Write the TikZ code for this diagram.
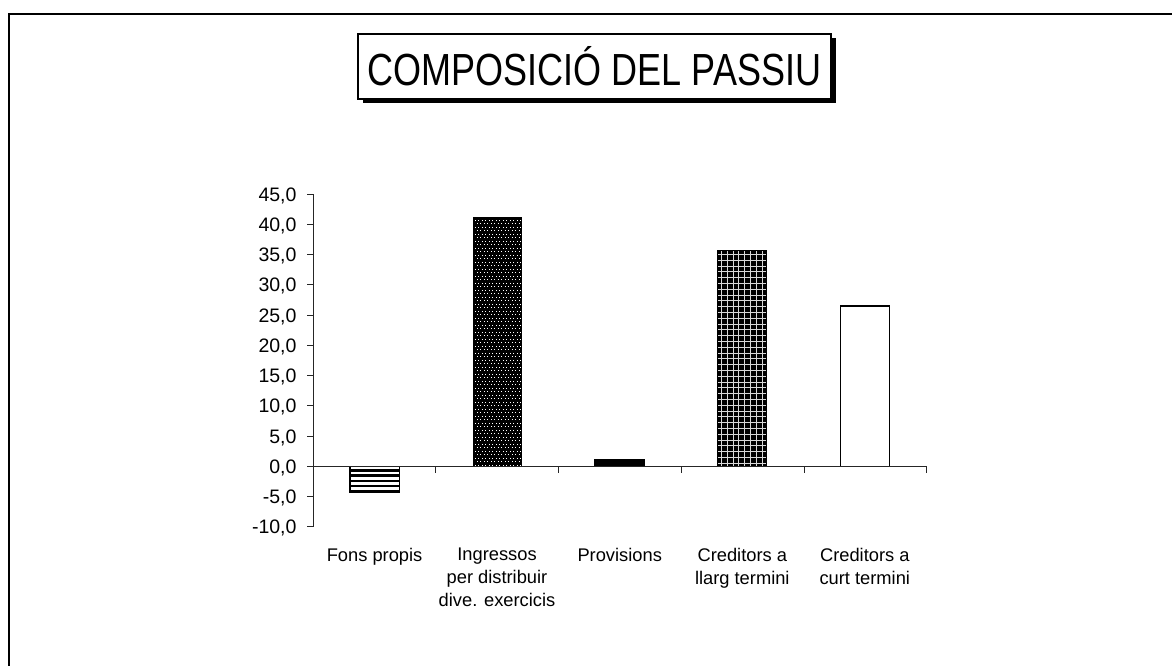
\documentclass[tikz,border=0pt]{standalone}
\usepackage{graphicx}
\usepackage{fontspec}
\setmainfont{Liberation Sans}
\begin{document}
\begin{tikzpicture}[x=1pt,y=-1pt,
  axisline/.style={draw=black!85,line width=1pt},
  barframe/.style={draw=black,line width=1.4pt},
  ticklabel/.style={anchor=base east,inner sep=0pt,font=\fontsize{19.5}{22}\selectfont},
  catlabel/.style={anchor=north,inner sep=0pt,align=center,font=\fontsize{18.3}{23}\selectfont}]
\useasboundingbox (0,0) rectangle (1172,666);
\fill[white] (0,0) rectangle (1172,666);
% outer frame
\draw[line width=1.5pt] (9,666) -- (9,14) -- (1172,14);
% title with shadow
\fill[black] (362.5,38.5) rectangle (835.5,103.5);
\node[draw,fill=white,line width=1.3pt,minimum width=473pt,minimum height=65pt,inner sep=0pt,
  font=\fontsize{36}{40}\selectfont] (title) at (594.5,66.5) {\raisebox{-1pt}{\scalebox{1}[1.25]{COMPOSICIÓ DEL PASSIU}}};
% bar 1: Fons propis (horizontal stripes)
\begin{scope}
\clip (350,466.5) rectangle (399.3,492.3);
\fill[white] (350,466.5) rectangle (399.3,492.3);
\foreach \yy in {469.3,474.4,...,493} \fill[black] (350,\yy) rectangle (399.3,\yy+2.4);
\end{scope}
\draw[barframe] (350,466.5) rectangle (399.3,492.3);
% bar 2: Ingressos (black with white dots)
\begin{scope}
\clip (473.3,217.7) rectangle (521.7,466.5);
\fill[black] (473.3,217.7) rectangle (521.7,466.5);
\foreach \r in {0,...,71} {
  \pgfmathsetmacro{\off}{mod(\r,2)*1.75}
  \foreach \c in {0,...,14} {
    \fill[white] ({474.8+\c*3.5+\off},{219.5+\r*3.5}) rectangle ++(1.1,1.1);
  }
}
\end{scope}
\draw[barframe] (473.3,217.7) rectangle (521.7,466.5);
% bar 3: Provisions (solid)
\fill[black] (595,460) rectangle (644.3,466.5);
\draw[barframe] (595,460) rectangle (644.3,466.5);
% bar 4: Creditors a llarg termini (black with white grid)
\begin{scope}
\clip (717.7,250.7) rectangle (766.7,466.5);
\fill[black] (717.7,250.7) rectangle (766.7,466.5);
\foreach \xx in {721.5,727.3,...,767} \draw[white!85!black,line width=0.9pt] (\xx,250.7) -- (\xx,466.5);
\foreach \yy in {254.5,260.3,...,467} \draw[white!85!black,line width=0.9pt] (717.7,\yy) -- (766.7,\yy);
\end{scope}
\draw[barframe] (717.7,250.7) rectangle (766.7,466.5);
% bar 5: Creditors a curt termini (white)
\fill[white] (840.3,306) rectangle (889.3,466.5);
\draw[barframe] (840.3,306) rectangle (889.3,466.5);
% axes
\draw[axisline] (313.3,194) -- (313.3,527);
\draw[axisline] (313.3,466.5) -- (926.7,466.5);
\foreach \k [count=\i from 0] in {45,40,35,30,25,20,15,10,5,0,-5,-10} {
  \pgfmathsetmacro{\ty}{194+\i*30.27}
  \draw[axisline] (307,\ty) -- (313.3,\ty);
  \node[ticklabel] (t\i) at (296.7,\ty+7) {\k,0};
}
\foreach \i in {0,...,5} {
  \draw[axisline] ({313.3+\i*122.68},466.5) -- ({313.3+\i*122.68},472.5);
}
% category labels
\node[catlabel] (c1) at (374.6,548) {Fons propis};
\node[catlabel] (c2) at (497,548) {Ingressos\\per distribuir\\dive. exercicis};
\node[catlabel] (c3) at (619.7,548) {Provisions};
\node[catlabel] (c4) at (742.3,548) {Creditors a\\llarg termini};
\node[catlabel] (c5) at (864.8,548) {Creditors a\\curt termini};
\end{tikzpicture}
\end{document}
